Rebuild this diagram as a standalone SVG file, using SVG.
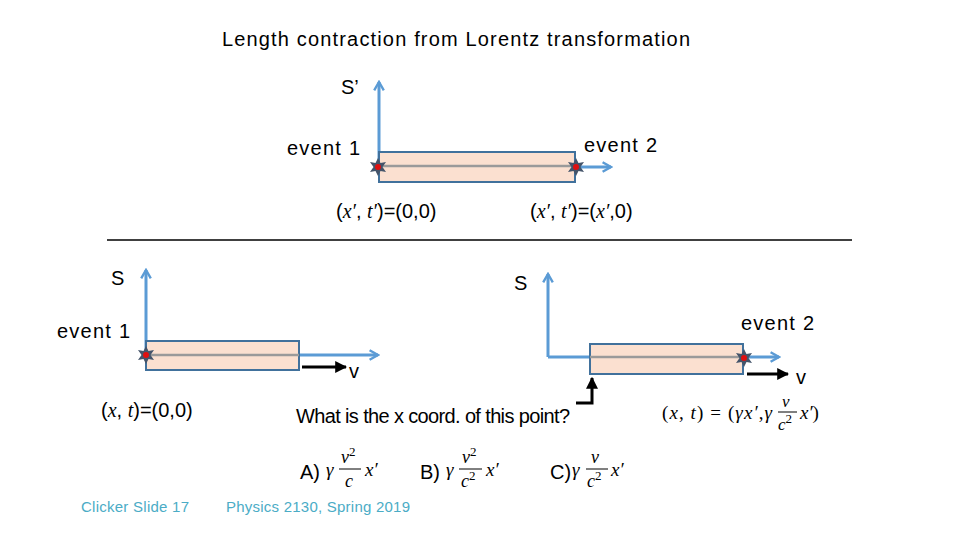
<svg xmlns="http://www.w3.org/2000/svg" width="960" height="540" viewBox="0 0 960 540">
<style>
.t{font-family:"Liberation Sans",Arial,sans-serif;font-size:20px;fill:#000}
.m{font-family:"Liberation Serif","Times New Roman",serif;font-style:italic;fill:#000}
.mr{font-family:"Liberation Serif","Times New Roman",serif;font-style:normal}
.sup{font-family:"Liberation Serif","Times New Roman",serif;font-style:normal;font-size:13px}
.foot{font-family:"Liberation Sans",Arial,sans-serif;font-size:15px;fill:#4bacc6}
.axis{stroke:#5b9bd5;stroke-width:3;fill:none}
.rod{fill:#fbe0d0;stroke:#41719c;stroke-width:2}
.inner{stroke:#9a9a9a;stroke-width:2.5}
.blk{stroke:#000;stroke-width:3;fill:none}
.bar{stroke:#000;stroke-width:1}
</style>
<defs>
<marker id="ab" viewBox="0 0 10 10" refX="8" refY="5" markerWidth="4" markerHeight="4" orient="auto"><path d="M1,1 L8,5 L1,9" fill="none" stroke="#5b9bd5" stroke-width="2"/></marker>
<marker id="ak" viewBox="0 0 10 10" refX="9" refY="5" markerWidth="4" markerHeight="4" orient="auto"><path d="M0,0 L10,5 L0,10 Z" fill="#000"/></marker>
<g id="star"><polygon points="0,-9 2.5,-4 8,-5 4.5,0 8,5 2.5,4 0,9 -2.5,4 -8,5 -4.5,0 -8,-5 -2.5,-4" fill="#44546a"/><circle r="3" fill="#e01010"/></g>
</defs>

<text class="t" x="456" y="46" text-anchor="middle" textLength="468">Length contraction from Lorentz transformation</text>

<g id="connectors">
<line class="axis" x1="379" y1="167" x2="379" y2="82" marker-end="url(#ab)"/>
<line class="axis" x1="575" y1="167" x2="611" y2="167" marker-end="url(#ab)"/>
<line class="axis" x1="146" y1="355" x2="146" y2="270" marker-end="url(#ab)"/>
<line class="axis" x1="299" y1="355" x2="378" y2="355" marker-end="url(#ab)"/>
<line class="blk" x1="302" y1="367" x2="346" y2="367" marker-end="url(#ak)"/>
<polyline class="axis" points="548,357 548,274" marker-end="url(#ab)"/>
<line class="axis" x1="548" y1="357" x2="590" y2="357"/>
<line class="axis" x1="743" y1="357" x2="779" y2="357" marker-end="url(#ab)"/>
<line class="blk" x1="747" y1="374" x2="788" y2="374" marker-end="url(#ak)"/>
<polyline class="blk" points="576,403 592,403 592,378" stroke-width="2" marker-end="url(#ak)"/>
<line x1="107" y1="240" x2="852" y2="240" stroke="#000" stroke-width="1.5"/>
</g>

<g id="rod-top">
<rect class="rod" x="379" y="152" width="196" height="30"/>
<line class="inner" x1="379" y1="166" x2="575" y2="166"/>
</g>
<g id="rod-left">
<rect class="rod" x="146" y="341" width="153" height="29"/>
<line class="inner" x1="146" y1="355" x2="299" y2="355"/>
</g>
<g id="rod-right">
<rect class="rod" x="590" y="344" width="153" height="30"/>
<line class="inner" x1="590" y1="357" x2="743" y2="357"/>
</g>

<g id="event1-top"><use href="#star" x="378" y="167"/><text class="t" x="287" y="155" textLength="73">event 1</text></g>
<g id="event2-top"><use href="#star" x="576" y="167"/><text class="t" x="584" y="152" textLength="73">event 2</text></g>
<g id="event1-bottom"><use href="#star" x="146" y="355"/><text class="t" x="57" y="338" textLength="73">event 1</text></g>
<g id="event2-bottom"><use href="#star" x="744" y="358"/><text class="t" x="741" y="330" textLength="73">event 2</text></g>

<g id="labels">
<text class="t" x="341" y="94">S’</text>
<text class="t" x="111" y="285">S</text>
<text class="t" x="514" y="290">S</text>
<text class="t" x="349" y="378" font-size="18">v</text>
<text class="t" x="796" y="384" font-size="18">v</text>

<text class="t" x="336" y="218" font-size="18">(<tspan class="m">x′</tspan>, <tspan class="m">t′</tspan>)=(0,0)</text>
<text class="t" x="530" y="218" font-size="18">(<tspan class="m">x′</tspan>, <tspan class="m">t′</tspan>)=(<tspan class="m">x′</tspan>,0)</text>
<text class="t" x="101" y="417" font-size="18">(<tspan class="m">x</tspan>, <tspan class="m">t</tspan>)=(0,0)</text>

<text class="t" x="296" y="423" font-size="17" textLength="274">What is the x coord. of this point?</text>

<text class="m" x="662" y="419" font-size="19" textLength="110"><tspan class="mr">(</tspan>x<tspan class="mr">, </tspan>t<tspan class="mr">) = (</tspan>γx′<tspan class="mr">,</tspan>γ</text>
<text class="m" x="782" y="407" font-size="17">v</text>
<line class="bar" x1="778" y1="412" x2="797" y2="412"/>
<text class="m" x="778" y="430" font-size="17">c<tspan class="sup" dy="-7">2</tspan></text>
<text class="m" x="800" y="419" font-size="19">x′<tspan class="mr">)</tspan></text>
</g>

<g id="answer-A">
<text class="t" x="300" y="479" font-size="16">A)</text>
<text class="m" x="326" y="476" font-size="19">γ</text>
<text class="m" x="341" y="463" font-size="18">v<tspan class="sup" dy="-7">2</tspan></text>
<line class="bar" x1="339" y1="469" x2="361" y2="469"/>
<text class="m" x="345" y="487" font-size="18">c</text>
<text class="m" x="365" y="476" font-size="19">x′</text>
</g>
<g id="answer-B">
<text class="t" x="420" y="479" font-size="16">B)</text>
<text class="m" x="446" y="476" font-size="19">γ</text>
<text class="m" x="462" y="463" font-size="18">v<tspan class="sup" dy="-7">2</tspan></text>
<line class="bar" x1="459" y1="469" x2="482" y2="469"/>
<text class="m" x="461" y="487" font-size="18">c<tspan class="sup" dy="-7">2</tspan></text>
<text class="m" x="486" y="476" font-size="19">x′</text>
</g>
<g id="answer-C">
<text class="t" x="550" y="479" font-size="16">C)</text>
<text class="m" x="572" y="476" font-size="19">γ</text>
<text class="m" x="591" y="463" font-size="18">v</text>
<line class="bar" x1="586" y1="469" x2="608" y2="469"/>
<text class="m" x="587" y="487" font-size="18">c<tspan class="sup" dy="-7">2</tspan></text>
<text class="m" x="611" y="476" font-size="19">x′</text>
</g>

<g id="footer">
<text class="foot" x="81" y="512" textLength="108">Clicker Slide 17</text>
<text class="foot" x="226" y="512" textLength="184">Physics 2130, Spring 2019</text>
</g>
</svg>
